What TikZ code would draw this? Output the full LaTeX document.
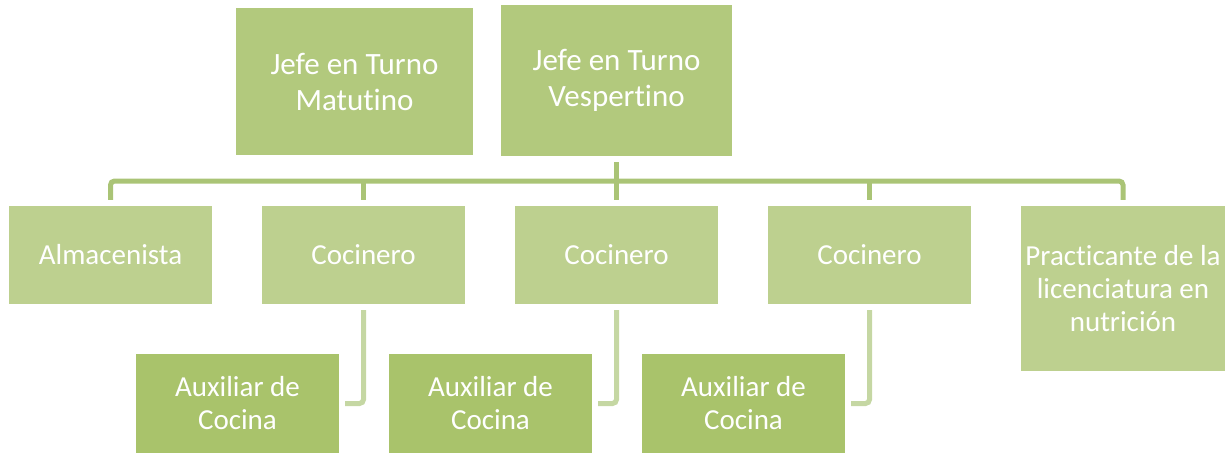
\documentclass[tikz,border=0pt]{standalone}
\usepackage{fontspec}
\setmainfont{Carlito}[Ligatures=NoCommon]
\definecolor{topfill}{HTML}{B2C97D}
\definecolor{midfill}{HTML}{BDD08F}
\definecolor{auxfill}{HTML}{A9C36B}
\definecolor{busline}{HTML}{AAC476}
\definecolor{auxline}{HTML}{C5D7A3}
\begin{document}
\begin{tikzpicture}[x=1pt,y=-1pt,
  box/.style={rectangle, inner sep=0pt, text=white, align=center},
  topbox/.style={box, fill=topfill, font=\fontsize{31}{36}\selectfont},
  midbox/.style={box, fill=midfill, minimum width=203pt, minimum height=98pt, font=\fontsize{29}{33}\selectfont},
  auxbox/.style={box, fill=auxfill, minimum width=203pt, minimum height=99pt, font=\fontsize{29}{33}\selectfont},
  conn/.style={draw=busline, line width=5pt, rounded corners=4pt},
  auxconn/.style={draw=auxline, line width=5pt, rounded corners=4pt}]
\useasboundingbox (0,0) rectangle (1225,453);
\node[topbox, minimum width=237pt, minimum height=147pt] (mat) at (354.5,81.5) {Jefe en Turno\\Matutino};
\node[topbox, minimum width=231pt, minimum height=151pt] (vesp) at (616.5,80.5) {Jefe en Turno\\Vespertino};
\node[midbox] (alm) at (110.5,255) {Almacenista};
\node[midbox] (coc1) at (363.5,255) {Cocinero};
\node[midbox] (coc2) at (616.5,255) {Cocinero};
\node[midbox] (coc3) at (869.5,255) {Cocinero};
\node[midbox, minimum width=204pt, minimum height=165pt] (prac) at (1123,288.5) {Practicante de la\\licenciatura en\\nutrición};
\node[auxbox] (aux1) at (237.5,403.5) {Auxiliar de\\Cocina};
\node[auxbox] (aux2) at (490.5,403.5) {Auxiliar de\\Cocina};
\node[auxbox] (aux3) at (743.5,403.5) {Auxiliar de\\Cocina};
\coordinate (bus) at (616.5,181);
\draw[conn, shorten <=6pt] (vesp.south) -- (bus);
\draw[conn, shorten <=6pt, shorten >=6pt] (alm.north) |- (bus) -| (prac.north);
\draw[conn, shorten <=6pt] (coc1.north) -- (coc1.north |- bus);
\draw[conn, shorten <=6pt] (coc2.north) -- (coc2.north |- bus);
\draw[conn, shorten <=6pt] (coc3.north) -- (coc3.north |- bus);
\draw[auxconn, shorten <=6pt, shorten >=6pt] (coc1.south) |- (aux1.east);
\draw[auxconn, shorten <=6pt, shorten >=6pt] (coc2.south) |- (aux2.east);
\draw[auxconn, shorten <=6pt, shorten >=6pt] (coc3.south) |- (aux3.east);
\end{tikzpicture}
\end{document}
